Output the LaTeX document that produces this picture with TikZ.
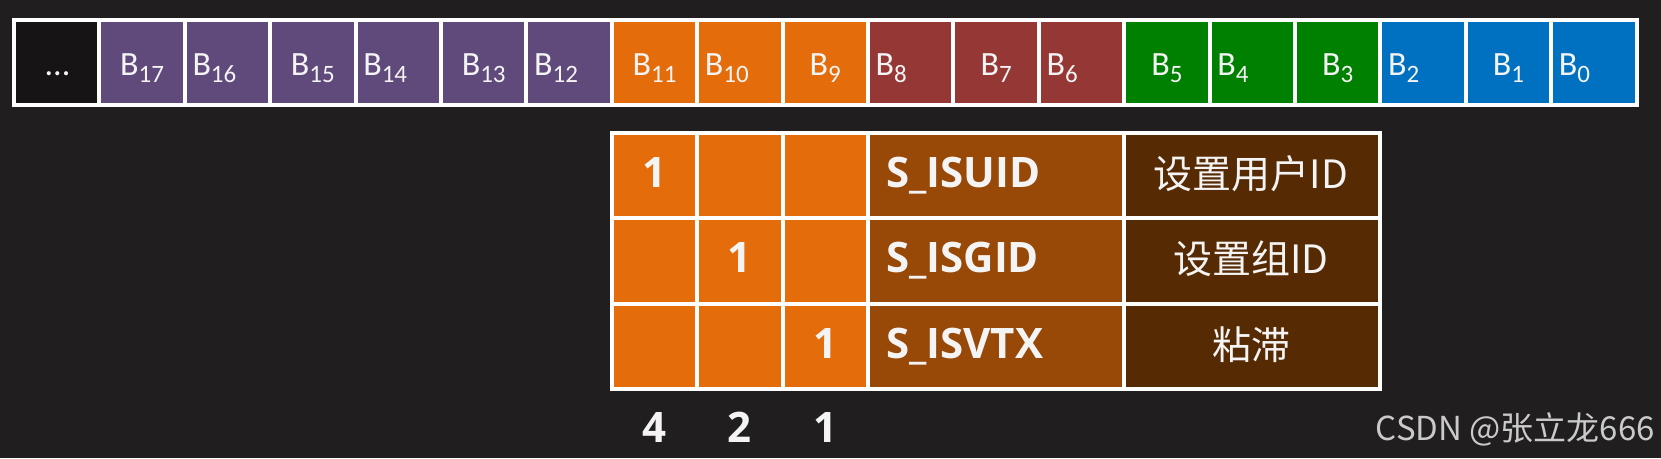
\documentclass[tikz,border=0pt]{standalone}
\usepackage{fontspec}
\setmainfont{Carlito}
\newfontfamily\osans{Open Sans}
\newfontfamily\cjkf{Noto Sans CJK SC}
\definecolor{bgc}{HTML}{201E1F}
\definecolor{blk}{HTML}{171415}
\definecolor{pur}{HTML}{604A7B}
\definecolor{org}{HTML}{E46C0A}
\definecolor{dred}{HTML}{953735}
\definecolor{grn}{HTML}{008000}
\definecolor{blu}{HTML}{0070C0}
\definecolor{scol}{HTML}{984807}
\definecolor{dcol}{HTML}{562B04}
\definecolor{txt}{HTML}{F4F4F4}
\definecolor{wm}{HTML}{CACACA}
\newcommand\Bsub[1]{B\raisebox{-7pt}{\fontsize{25}{25}\selectfont #1}}
\begin{document}
\begin{tikzpicture}[x=1pt,y=-1pt,
  cellbox/.style={draw=white, line width=4pt, minimum width=85.4pt, minimum height=85pt, inner sep=0pt, outer sep=0pt},
  wcell/.style={draw=white, line width=4pt, minimum width=256.2pt, minimum height=85.3pt, inner sep=0pt, outer sep=0pt},
  tcell/.style={cellbox, minimum height=85.3pt, fill=org},
  blab/.style={text=txt, inner sep=0pt, font=\fontsize{34}{40}\selectfont},
  bold/.style={text=txt, inner sep=0pt, font=\osans\bfseries\fontsize{42}{48}\selectfont},
  cjk/.style={text=txt, inner sep=0pt, font=\cjkf\fontsize{39}{44}\selectfont}]
\useasboundingbox (0,0) rectangle (1661,458);
\fill[bgc] (0,0) rectangle (1661,458);
% top bar
\node[cellbox, fill=blk] (c0) at (56.7,62.5) {};
\node[blab, anchor=base] (l0) at (57.5,75) {...};
\foreach \i/\n/\col in {1/17/pur,2/16/pur,3/15/pur,4/14/pur,5/13/pur,6/12/pur,7/11/org,8/10/org,9/9/org,10/8/dred,11/7/dred,12/6/dred,13/5/grn,14/4/grn,15/3/grn,16/2/blu,17/1/blu,18/0/blu}{
  \pgfmathsetmacro\cx{14+85.4*\i+42.7}
  \node[cellbox, fill=\col] (c\i) at (\cx,62.5) {};
  \ifodd\n\relax
    \node[blab, anchor=base] (l\i) at (\cx,75) {\Bsub{\n}};
  \else
    \node[blab, anchor=base west] (l\i) at (\cx-35.2,75) {\Bsub{\n}};
  \fi
}
% table
\foreach \r/\sname/\desc in {0/S\_ISUID/设置用户ID,1/S\_ISGID/设置组ID,2/S\_ISVTX/粘滞}{
  \pgfmathsetmacro\rc{133+85.3*\r+42.65}
  \foreach \c in {0,1,2}{
    \pgfmathsetmacro\tx{14+85.4*(7+\c)+42.7}
    \node[tcell] (t\r\c) at (\tx,\rc) {};
  }
  \node[wcell, fill=scol] (s\r) at (996.2,\rc) {};
  \node[wcell, fill=dcol] (d\r) at (1252.3,\rc) {};
  \node[bold, anchor=base west] (sn\r) at (886,\rc+12) {\sname};
  \node[cjk] (dn\r) at (1251,\rc-2) {\desc};
  \pgfmathsetmacro\ox{14+85.4*(7+\r)+42.7}
  \node[bold, anchor=base] (one\r) at (\ox,\rc+12) {1};
}
% weights
\node[bold, anchor=base] (w4) at (14+85.4*7+42.7,442) {4};
\node[bold, anchor=base] (w2) at (14+85.4*8+42.7,442) {2};
\node[bold, anchor=base] (w1) at (14+85.4*9+42.7,442) {1};
% watermark
\node[anchor=base east, inner sep=0pt, text=wm, font=\cjkf\fontsize{33}{38}\selectfont] (wmk) at (1655,440) {CSDN @张立龙666};
\end{tikzpicture}
\end{document}
